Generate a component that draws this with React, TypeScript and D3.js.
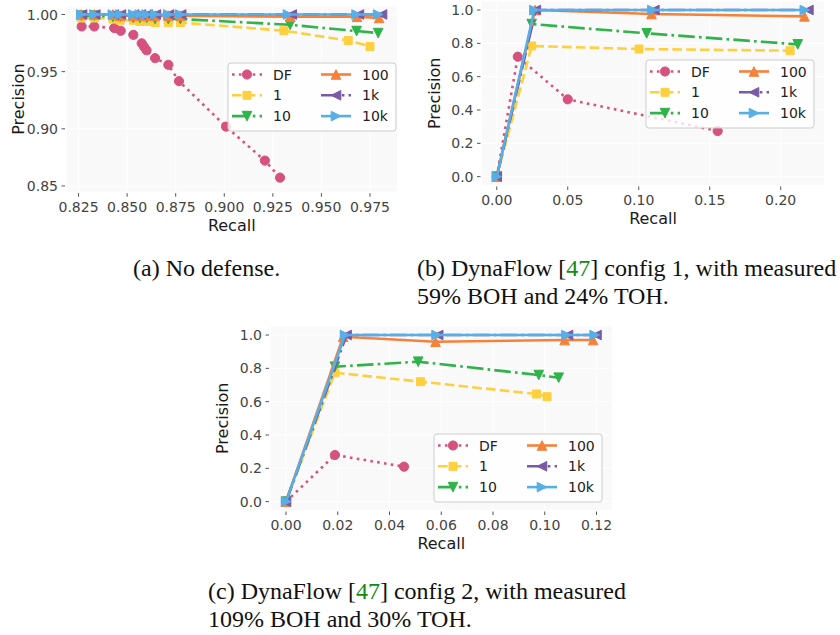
import React from "react";
import * as d3 from "d3";

type Pt = [number, number];

// ---------- series meta ----------
const SERIES_NAMES = ["DF", "1", "10", "100", "1k", "10k"];
const SERIES_COLORS = ["#d6527e", "#fdd03f", "#2fb34a", "#f5813a", "#7a5aa6", "#58aee6"];
const SERIES_DASH = ["2.6,4.3", "9.6,4.2", "16.6,4.2,2.6,4.2", "", "16.6,4.2,2.6,4.2", ""];
const SERIES_MARKER = ["circle", "square", "down", "up", "left", "right"];

// ---------- panel (a): No defense ----------
const a_DF: Pt[] = [
  [0.8266, 0.9895], [0.8331, 0.9895], [0.8434, 0.9881], [0.8467, 0.9857], [0.8532, 0.9822],
  [0.8575, 0.9748], [0.8587, 0.9717], [0.86, 0.9687], [0.8644, 0.9618], [0.8712, 0.956],
  [0.8767, 0.9417], [0.9009, 0.9019], [0.9209, 0.8722], [0.9287, 0.8573],
];
const a_1: Pt[] = [
  [0.8264, 0.997], [0.8332, 0.997], [0.8427, 0.996], [0.8464, 0.995], [0.8532, 0.995],
  [0.8566, 0.994], [0.8601, 0.994], [0.8644, 0.993], [0.8712, 0.993], [0.8774, 0.993],
  [0.9307, 0.9858], [0.9638, 0.9772], [0.975, 0.972],
];
const a_10: Pt[] = [
  [0.8264, 0.999], [0.8332, 0.999], [0.8427, 0.998], [0.8464, 0.998], [0.8532, 0.997],
  [0.8566, 0.997], [0.8601, 0.997], [0.8644, 0.996], [0.8712, 0.996], [0.8774, 0.996],
  [0.9339, 0.991], [0.9681, 0.9855], [0.9792, 0.9837],
];
const a_100: Pt[] = [
  [0.8264, 1.0], [0.8332, 1.0], [0.8427, 1.0], [0.8464, 0.999], [0.8532, 0.999],
  [0.8566, 0.999], [0.8601, 0.999], [0.8644, 0.999], [0.8712, 0.999], [0.8774, 0.999],
  [0.9339, 0.998], [0.9683, 0.998], [0.9797, 0.997],
];
const a_1k: Pt[] = [
  [0.8268, 1.0], [0.8336, 1.0], [0.8431, 1.0], [0.8468, 1.0], [0.8536, 1.0],
  [0.857, 1.0], [0.8605, 1.0], [0.8648, 1.0], [0.8716, 1.0], [0.8778, 1.0],
  [0.9347, 1.0], [0.9693, 1.0], [0.9812, 1.0],
];
const a_10k: Pt[] = [
  [0.8264, 1.0], [0.8332, 1.0], [0.8427, 1.0], [0.8464, 1.0], [0.8532, 1.0],
  [0.8566, 1.0], [0.8601, 1.0], [0.8644, 1.0], [0.8712, 1.0], [0.8774, 1.0],
  [0.9328, 1.0], [0.9681, 1.0], [0.9792, 1.0],
];
const a_xTicks = [0.825, 0.85, 0.875, 0.9, 0.925, 0.95, 0.975];
const a_yTicks = [0.85, 0.9, 0.95, 1.0];

// ---------- panel (b): DynaFlow config 1 ----------
const b_DF: Pt[] = [[0, 0], [0.0148, 0.72], [0.05, 0.464], [0.1556, 0.274]];
const b_1: Pt[] = [[0, 0], [0.0246, 0.784], [0.1002, 0.766], [0.2066, 0.756]];
const b_10: Pt[] = [[0, 0], [0.0246, 0.916], [0.1056, 0.86], [0.212, 0.794]];
const b_100: Pt[] = [[0, 0], [0.027, 1.0], [0.109, 0.976], [0.2167, 0.962]];
const b_1k: Pt[] = [[0, 0], [0.0275, 1.0], [0.111, 1.0], [0.2195, 1.0]];
const b_10k: Pt[] = [[0, 0], [0.0265, 1.0], [0.1096, 1.0], [0.217, 1.0]];
const b_xTicks = [0, 0.05, 0.1, 0.15, 0.2];
const b_yTicks = [0, 0.2, 0.4, 0.6, 0.8, 1.0];

// ---------- panel (c): DynaFlow config 2 ----------
const c_DF: Pt[] = [[0, 0], [0.0189, 0.28], [0.0456, 0.21]];
const c_1: Pt[] = [[0, 0], [0.0189, 0.774], [0.052, 0.72], [0.0968, 0.646], [0.1009, 0.63]];
const c_10: Pt[] = [[0, 0], [0.0189, 0.81], [0.0511, 0.84], [0.0977, 0.76], [0.1054, 0.744]];
const c_100: Pt[] = [[0, 0], [0.0221, 0.99], [0.0578, 0.96], [0.1077, 0.97], [0.1187, 0.97]];
const c_1k: Pt[] = [[0, 0], [0.0234, 1.0], [0.0588, 1.0], [0.109, 1.0], [0.12, 1.0]];
const c_10k: Pt[] = [[0, 0], [0.0228, 1.0], [0.0582, 1.0], [0.1084, 1.0], [0.1193, 1.0]];
const c_xTicks = [0, 0.02, 0.04, 0.06, 0.08, 0.1, 0.12];
const c_yTicks = [0, 0.2, 0.4, 0.6, 0.8, 1.0];

const SANS = "'DejaVu Sans', sans-serif";
const SERIF = "'Liberation Serif', 'DejaVu Serif', serif";

function markerPath(kind: string, cx: number, cy: number): string {
  const t = 4.8;
  switch (kind) {
    case "square": {
      const s = 4.0;
      return `M${cx - s},${cy - s}H${cx + s}V${cy + s}H${cx - s}Z`;
    }
    case "up":
      return `M${cx},${cy - t}L${cx + t},${cy + t}L${cx - t},${cy + t}Z`;
    case "down":
      return `M${cx},${cy + t}L${cx + t},${cy - t}L${cx - t},${cy - t}Z`;
    case "left":
      return `M${cx - t},${cy}L${cx + t},${cy - t}L${cx + t},${cy + t}Z`;
    case "right":
      return `M${cx + t},${cy}L${cx - t},${cy - t}L${cx - t},${cy + t}Z`;
    default:
      return "";
  }
}

function Marker({ kind, cx, cy, color }: { kind: string; cx: number; cy: number; color: string }) {
  if (kind === "circle") {
    return <circle cx={cx} cy={cy} r={4.6} fill={color} stroke={color} strokeWidth={1} />;
  }
  return <path d={markerPath(kind, cx, cy)} fill={color} stroke={color} strokeWidth={1} strokeLinejoin="miter" />;
}

interface PanelDef {
  id: string;
  left: number; right: number; top: number; bottom: number;
  xDomain: [number, number]; yDomain: [number, number];
  xTicks: number[]; yTicks: number[];
  xFmt: string; yFmt: string;
  series: Pt[][];
  legend: [number, number];
}

const LW = 2.6;

function Panel({ p }: { p: PanelDef }) {
  const x = d3.scaleLinear().domain(p.xDomain).range([p.left, p.right]);
  const y = d3.scaleLinear().domain(p.yDomain).range([p.bottom, p.top]);
  const line = d3.line<Pt>().x((d) => x(d[0])).y((d) => y(d[1]));
  const fx = d3.format(p.xFmt);
  const fy = d3.format(p.yFmt);
  const [lx, ly] = p.legend;
  const lw = 168, lh = 68;
  const rowH = 20.8;
  return (
    <g>
      <defs>
        <clipPath id={`clip-${p.id}`}>
          <rect x={p.left} y={p.top} width={p.right - p.left} height={p.bottom - p.top} />
        </clipPath>
      </defs>
      <rect x={p.left} y={p.top} width={p.right - p.left} height={p.bottom - p.top} fill="#f9f9f9" />
      {p.xTicks.map((t) => (
        <line key={"gx" + t} x1={x(t)} x2={x(t)} y1={p.top} y2={p.bottom} stroke="#ffffff" strokeWidth={1} />
      ))}
      {p.yTicks.map((t) => (
        <line key={"gy" + t} x1={p.left} x2={p.right} y1={y(t)} y2={y(t)} stroke="#ffffff" strokeWidth={1} />
      ))}
      {p.xTicks.map((t) => (
        <g key={"tx" + t}>
          <line x1={x(t)} x2={x(t)} y1={p.bottom + 1.5} y2={p.bottom + 5} stroke="#555" strokeWidth={1} />
          <text x={x(t)} y={p.bottom + 20} textAnchor="middle" fontFamily={SANS} fontSize={14} fill="#444">
            {fx(t)}
          </text>
        </g>
      ))}
      {p.yTicks.map((t) => (
        <g key={"ty" + t}>
          <line x1={p.left - 5} x2={p.left - 1.5} y1={y(t)} y2={y(t)} stroke="#555" strokeWidth={1} />
          <text x={p.left - 8.5} y={y(t)} dy="0.36em" textAnchor="end" fontFamily={SANS} fontSize={14} fill="#444">
            {fy(t)}
          </text>
        </g>
      ))}
      <text x={(p.left + p.right) / 2} y={p.bottom + 39} textAnchor="middle" fontFamily={SANS} fontSize={16} fill="#1a1a1a">
        Recall
      </text>
      <text
        transform={`translate(${p.left - 48},${(p.top + p.bottom) / 2}) rotate(-90)`}
        textAnchor="middle"
        fontFamily={SANS}
        fontSize={16}
        fill="#1a1a1a"
        dy="0.36em"
      >
        Precision
      </text>
      <g clipPath={`url(#clip-${p.id})`}>
        {p.series.map((data, i) => (
          <g key={"s" + i}>
            <path
              d={line(data) || ""}
              fill="none"
              stroke={SERIES_COLORS[i]}
              strokeWidth={LW}
              strokeDasharray={SERIES_DASH[i] || undefined}
              strokeLinejoin="round"
            />
            {data.map((d, j) => (
              <Marker key={j} kind={SERIES_MARKER[i]} cx={x(d[0])} cy={y(d[1])} color={SERIES_COLORS[i]} />
            ))}
          </g>
        ))}
      </g>
      <rect x={lx} y={ly} width={lw} height={lh} rx={3} fill="#ffffff" fillOpacity={0.8} stroke="#cccccc" strokeWidth={1} />
      {SERIES_NAMES.map((name, i) => {
        const col = Math.floor(i / 3);
        const row = i % 3;
        const hx = lx + 4 + col * 89;
        const cy = ly + 11.5 + row * rowH;
        return (
          <g key={"lg" + name}>
            <line
              x1={hx}
              x2={hx + 30}
              y1={cy}
              y2={cy}
              stroke={SERIES_COLORS[i]}
              strokeWidth={LW}
              strokeDasharray={SERIES_DASH[i] || undefined}
            />
            <Marker kind={SERIES_MARKER[i]} cx={hx + 15} cy={cy} color={SERIES_COLORS[i]} />
            <text x={hx + 41} y={cy} dy="0.36em" fontFamily={SANS} fontSize={14} fill="#222">
              {name}
            </text>
          </g>
        );
      })}
    </g>
  );
}

const PANELS: PanelDef[] = [
  {
    id: "a", left: 66.5, right: 397, top: 6.6, bottom: 191.7,
    xDomain: [0.8188, 0.9889], yDomain: [0.845, 1.0069],
    xTicks: a_xTicks, yTicks: a_yTicks, xFmt: ".3f", yFmt: ".2f",
    series: [a_DF, a_1, a_10, a_100, a_1k, a_10k], legend: [228, 63],
  },
  {
    id: "b", left: 482, right: 824, top: 1.7, bottom: 185,
    xDomain: [-0.0104, 0.2305], yDomain: [-0.05, 1.05],
    xTicks: b_xTicks, yTicks: b_yTicks, xFmt: ".2f", yFmt: ".1f",
    series: [b_DF, b_1, b_10, b_100, b_1k, b_10k], legend: [646, 60],
  },
  {
    id: "c", left: 270.5, right: 612, top: 326.7, bottom: 510,
    xDomain: [-0.006, 0.126], yDomain: [-0.05, 1.05],
    xTicks: c_xTicks, yTicks: c_yTicks, xFmt: ".2f", yFmt: ".1f",
    series: [c_DF, c_1, c_10, c_100, c_1k, c_10k], legend: [434, 434],
  },
];

function Caption({ x, y, pre, cite, post, line2 }: { x: number; y: number; pre: string; cite?: string; post?: string; line2?: string }) {
  return (
    <g fontFamily={SERIF} fontSize={24} fill="#111">
      <text x={x} y={y}>
        {pre}
        {cite && <tspan fill="#138a13">{cite}</tspan>}
        {post}
      </text>
      {line2 && (
        <text x={x} y={y + 27.5}>
          {line2}
        </text>
      )}
    </g>
  );
}

export default function App() {
  return (
    <svg
      width={840}
      height={635}
      viewBox="0 0 840 635"
      style={{ position: "absolute", left: 0, top: 0, background: "#fff" }}
    >
      <rect x={0} y={0} width={840} height={635} fill="#fff" />
      {PANELS.map((p) => (
        <Panel key={p.id} p={p} />
      ))}
      <Caption x={133} y={276} pre="(a) No defense." />
      <Caption x={417} y={276} pre="(b) DynaFlow [" cite="47" post="] config 1, with measured" line2="59% BOH and 24% TOH." />
      <Caption x={208} y={599} pre="(c) DynaFlow [" cite="47" post="] config 2, with measured" line2="109% BOH and 30% TOH." />
    </svg>
  );
}
